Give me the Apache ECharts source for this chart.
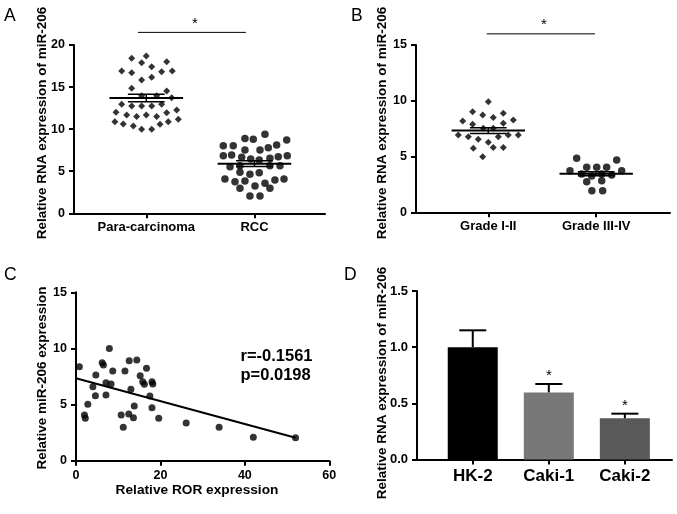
<!DOCTYPE html>
<html><head><meta charset="utf-8">
<script src="https://cdn.jsdelivr.net/npm/echarts@6/dist/echarts.min.js"></script>
<style>html,body{margin:0;padding:0;background:#fff}#c{width:677px;height:514px}</style>
</head><body><div id="c"></div>
<script>
// ---------- Panel A ----------
const groupsA = ['Para-carcinoma', 'RCC'];
const paraValues = [18.69,18.42,17.9,18.02,17.43,16.91,16.71,16.83,16.91,15.84,16.16,14.85,14.53,13.98,13.98,13.74,12.95,12.75,12.75,12.75,12.95,12.0,11.68,11.49,11.68,11.49,11.96,12.28,10.89,10.61,10.38,9.98,9.98,10.57,10.89,11.17];
const paraJitter = [0,-0.135,-0.043,0.189,0.05,-0.227,-0.135,0.142,0.24,-0.043,0.05,-0.135,0.189,-0.043,0.096,0.235,-0.227,-0.135,-0.043,0.05,0.142,-0.28,-0.181,-0.089,0,0.096,0.189,0.281,-0.29,-0.213,-0.12,-0.043,0.05,0.127,0.203,0.296];
const rccValues = [9.38,8.9,8.79,8.7,8.11,8.03,8.03,7.79,7.52,7.52,6.84,6.92,6.65,6.45,6.33,6.53,6.72,6.84,5.53,5.65,5.65,5.65,4.87,4.63,4.82,4.07,3.75,3.84,3.24,3.56,3.95,4.07,2.97,2.97,2.05,2.05];
const rccJitter = [0.097,-0.088,-0.011,0.298,0.205,-0.288,-0.196,0.128,0.051,-0.088,-0.288,-0.211,-0.118,-0.035,0.044,0.143,0.22,0.303,-0.226,-0.134,0.143,0.236,-0.134,-0.042,0.044,-0.273,-0.18,-0.088,0.005,0.097,0.189,0.273,-0.134,0.143,-0.042,0.051];
const meanA = [13.7, 5.9];
const semA = [0.45, 0.35];

// ---------- Panel B ----------
const groupsB = ['Grade I-II', 'Grade III-IV'];
const lowGradeValues = [9.92,9.02,8.73,8.49,8.88,8.19,7.89,7.98,8.28,7.53,7.53,6.93,6.78,6.55,6.28,6.78,6.93,6.93,5.74,5.8,5.8,4.99];
const lowGradeJitter = [0,-0.145,-0.052,0.046,0.139,-0.237,-0.145,0.139,0.232,-0.046,0.046,-0.278,-0.185,-0.093,0,0.093,0.185,0.278,-0.139,0.046,0.139,-0.052];
const highGradeValues = [4.84,4.69,3.73,4.04,4.04,4.04,3.73,3.43,3.26,3.43,3.35,2.75,2.83,1.94,1.94];
const highGradeJitter = [-0.181,0.19,-0.243,-0.088,0.005,0.097,0.236,-0.134,-0.042,0.051,0.144,-0.088,0.051,-0.04,0.06];
const meanB = [7.33, 3.45];
const semB = [0.26, 0.18];

// ---------- Panel C ----------
const rorExpr = [0.8,7.9,6.2,6.5,4.7,8.7,7.1,8.3,4.0,4.6,7.1,2.8,2.0,2.2,11.6,12.6,14.4,15.2,15.8,16.2,16.7,18.0,18.2,13.0,17.5,13.8,18.0,10.7,12.5,13.6,11.2,19.6,26.1,33.9,42.0,52.0];
const mirExpr = [8.37,10.0,8.73,8.52,7.63,7.99,6.95,6.83,6.59,5.79,5.85,5.02,4.07,3.78,7.99,8.9,8.97,7.57,7.03,6.8,8.23,7.03,6.83,6.36,5.76,4.87,4.72,4.07,4.16,3.83,2.97,3.78,3.36,2.97,2.08,2.05];
const fitX = [0, 52];
const fitY = [7.35, 2.05];
const corrText = ['r=-0.1561', 'p=0.0198'];

// ---------- Panel D ----------
const cellLines = ['HK-2', 'Caki-1', 'Caki-2'];
const cellMeans = [1.0, 0.597, 0.367];
const cellErr = [0.15, 0.075, 0.041];
const cellSig = ['', '*', '*'];
const cellColors = ['#000000', '#787878', '#595959'];

const FONT = 'Liberation Sans, Arial, sans-serif';
const chart = echarts.init(document.getElementById('c'), null, {renderer: 'canvas'});

function axisBase(extra) {
  return Object.assign({
    axisLine: {show: true, onZero: false, lineStyle: {color: '#000', width: 2}},
    axisTick: {show: true, length: 5, lineStyle: {color: '#000', width: 2}},
    splitLine: {show: false},
    axisLabel: {color: '#000', fontWeight: 'bold', fontFamily: FONT, fontSize: 12.5, margin: 8}
  }, extra);
}
function merge(a, b) { return Object.assign({}, a, b); }

function catX(gridIndex, min, max, names, fontSize, margin) {
  const ticks = names.map((_, i) => i + 1);
  const base = axisBase({type: 'value', gridIndex, min, max});
  base.axisTick = merge(base.axisTick, {customValues: ticks});
  base.axisLabel = merge(base.axisLabel, {customValues: ticks, fontSize, margin,
    formatter: v => names[Math.round(v) - 1] || ''});
  return base;
}
function valY(gridIndex, max, interval, fmt, fontSize) {
  const base = axisBase({type: 'value', gridIndex, min: 0, max, interval});
  base.axisLabel = merge(base.axisLabel, {fontSize, margin: 9, formatter: fmt});
  return base;
}

function meanRender(params, api) {
  const c = api.value(0), m = api.value(1), s = api.value(2);
  const p = api.coord([c, m]), pt = api.coord([c, m + s]), pb = api.coord([c, m - s]);
  const hw = api.size([0.34, 0])[0], hs = api.size([0.17, 0])[0];
  const st = (w) => ({stroke: '#000', lineWidth: w});
  return {type: 'group', children: [
    {type: 'line', shape: {x1: p[0] - hw, y1: p[1], x2: p[0] + hw, y2: p[1]}, style: st(2)},
    {type: 'line', shape: {x1: pt[0] - hs, y1: pt[1], x2: pt[0] + hs, y2: pt[1]}, style: st(1.5)},
    {type: 'line', shape: {x1: pb[0] - hs, y1: pb[1], x2: pb[0] + hs, y2: pb[1]}, style: st(1.5)},
    {type: 'line', shape: {x1: p[0], y1: pt[1], x2: p[0], y2: pb[1]}, style: st(1.5)}
  ]};
}
function sigRender(params, api) {
  const a = api.coord([api.value(0), api.value(2)]);
  const b = api.coord([api.value(1), api.value(2)]);
  const s = api.coord([api.value(3), api.value(2)]);
  return {type: 'group', children: [
    {type: 'line', shape: {x1: a[0], y1: a[1], x2: b[0], y2: b[1]}, style: {stroke: '#000', lineWidth: 1}},
    {type: 'text', x: s[0], y: s[1] - 9, style: {text: '*', fill: '#000', font: '15px ' + FONT, align: 'center', verticalAlign: 'middle'}}
  ]};
}
function errRender(params, api) {
  const x = api.value(0), m = api.value(1), e = api.value(2);
  const p = api.coord([x, m]), t = api.coord([x, m + e]);
  const i = params.dataIndex;
  const ch = [
    {type: 'line', shape: {x1: p[0], y1: p[1], x2: t[0], y2: t[1]}, style: {stroke: '#000', lineWidth: 2}},
    {type: 'line', shape: {x1: t[0] - 13.5, y1: t[1], x2: t[0] + 13.5, y2: t[1]}, style: {stroke: '#000', lineWidth: 2}}
  ];
  if (cellSig[i]) ch.push({type: 'text', x: t[0], y: t[1] - 8, style: {text: cellSig[i], fill: '#000', font: '15px ' + FONT, align: 'center', verticalAlign: 'middle'}});
  return {type: 'group', children: ch};
}

function titleV(text, x, y) {
  return {type: 'text', x, y, rotation: Math.PI / 2, style: {text, fill: '#000', font: 'bold 13.5px ' + FONT, align: 'center', verticalAlign: 'middle'}};
}
function letter(text, x, y) {
  return {type: 'text', x, y, style: {text, fill: '#000', font: '17.5px ' + FONT, align: 'left', verticalAlign: 'top'}};
}

const option = {
  animation: false,
  backgroundColor: '#fff',
  grid: [
    {left: 74, top: 45, width: 251, height: 168.3},
    {left: 416, top: 45, width: 254, height: 167.3},
    {left: 76, top: 292.3, width: 253.3, height: 168.4},
    {left: 417, top: 291, width: 255, height: 168.5}
  ],
  xAxis: [
    catX(0, 0.332, 2.652, groupsA, 13, 8),
    catX(1, 0.33, 2.684, groupsB, 13, 8),
    merge(axisBase({type: 'value', gridIndex: 2, min: 0, max: 60, interval: 20}), {}),
    catX(3, 0.267, 3.62, cellLines, 17, 8)
  ],
  yAxis: [
    valY(0, 20, 5, null, 12.5),
    valY(1, 15, 5, null, 12.5),
    valY(2, 15, 5, null, 12.5),
    valY(3, 1.5, 0.5, v => v.toFixed(1), 13)
  ],
  graphic: [
    letter('A', 4, 7), letter('B', 351, 7), letter('C', 4, 266), letter('D', 344, 266),
    titleV('Relative RNA expression of miR-206', 42, 123),
    titleV('Relative RNA expression of miR-206', 382, 123),
    titleV('Relative miR-206 expression', 42, 378),
    titleV('Relative RNA expression of miR-206', 382, 383),
    {type: 'text', x: 197, y: 490, style: {text: 'Relative ROR expression', fill: '#000', font: 'bold 13.7px ' + FONT, align: 'center', verticalAlign: 'middle'}},
    {type: 'text', x: 240.5, y: 356, style: {text: corrText[0], fill: '#000', font: 'bold 16.5px ' + FONT, align: 'left', verticalAlign: 'middle'}},
    {type: 'text', x: 240.5, y: 375, style: {text: corrText[1], fill: '#000', font: 'bold 16.5px ' + FONT, align: 'left', verticalAlign: 'middle'}}
  ],
  series: [
    {type: 'scatter', xAxisIndex: 0, yAxisIndex: 0, symbol: 'diamond', symbolSize: 7, itemStyle: {color: '#000'},
      data: paraValues.map((v, i) => [1 + paraJitter[i], v])},
    {type: 'scatter', xAxisIndex: 0, yAxisIndex: 0, symbol: 'circle', symbolSize: 7.5, itemStyle: {color: '#000'},
      data: rccValues.map((v, i) => [2 + rccJitter[i], v])},
    {type: 'custom', xAxisIndex: 0, yAxisIndex: 0, renderItem: meanRender, z: 5,
      data: meanA.map((m, i) => [i + 1, m, semA[i]])},
    {type: 'custom', xAxisIndex: 0, yAxisIndex: 0, renderItem: sigRender, clip: false,
      data: [[0.923, 1.921, 21.5, 1.45]]},

    {type: 'scatter', xAxisIndex: 1, yAxisIndex: 1, symbol: 'diamond', symbolSize: 7, itemStyle: {color: '#000'},
      data: lowGradeValues.map((v, i) => [1 + lowGradeJitter[i], v])},
    {type: 'scatter', xAxisIndex: 1, yAxisIndex: 1, symbol: 'circle', symbolSize: 7.5, itemStyle: {color: '#000'},
      data: highGradeValues.map((v, i) => [2 + highGradeJitter[i], v])},
    {type: 'custom', xAxisIndex: 1, yAxisIndex: 1, renderItem: meanRender, z: 5,
      data: meanB.map((m, i) => [i + 1, m, semB[i]])},
    {type: 'custom', xAxisIndex: 1, yAxisIndex: 1, renderItem: sigRender, clip: false,
      data: [[0.985, 1.989, 16.0, 1.516]]},

    {type: 'scatter', xAxisIndex: 2, yAxisIndex: 2, symbol: 'circle', symbolSize: 7, itemStyle: {color: '#000'},
      data: rorExpr.map((x, i) => [x, mirExpr[i]])},
    {type: 'line', xAxisIndex: 2, yAxisIndex: 2, symbol: 'none', lineStyle: {color: '#000', width: 2},
      data: fitX.map((x, i) => [x, fitY[i]])},

    {type: 'bar', xAxisIndex: 3, yAxisIndex: 3, barWidth: 50,
      itemStyle: {color: p => cellColors[p.dataIndex]},
      data: cellMeans.map((v, i) => [i + 1, v])},
    {type: 'custom', xAxisIndex: 3, yAxisIndex: 3, renderItem: errRender, clip: false, z: 5,
      data: cellMeans.map((v, i) => [i + 1, v, cellErr[i]])}
  ]
};
chart.setOption(option);
</script></body></html>
